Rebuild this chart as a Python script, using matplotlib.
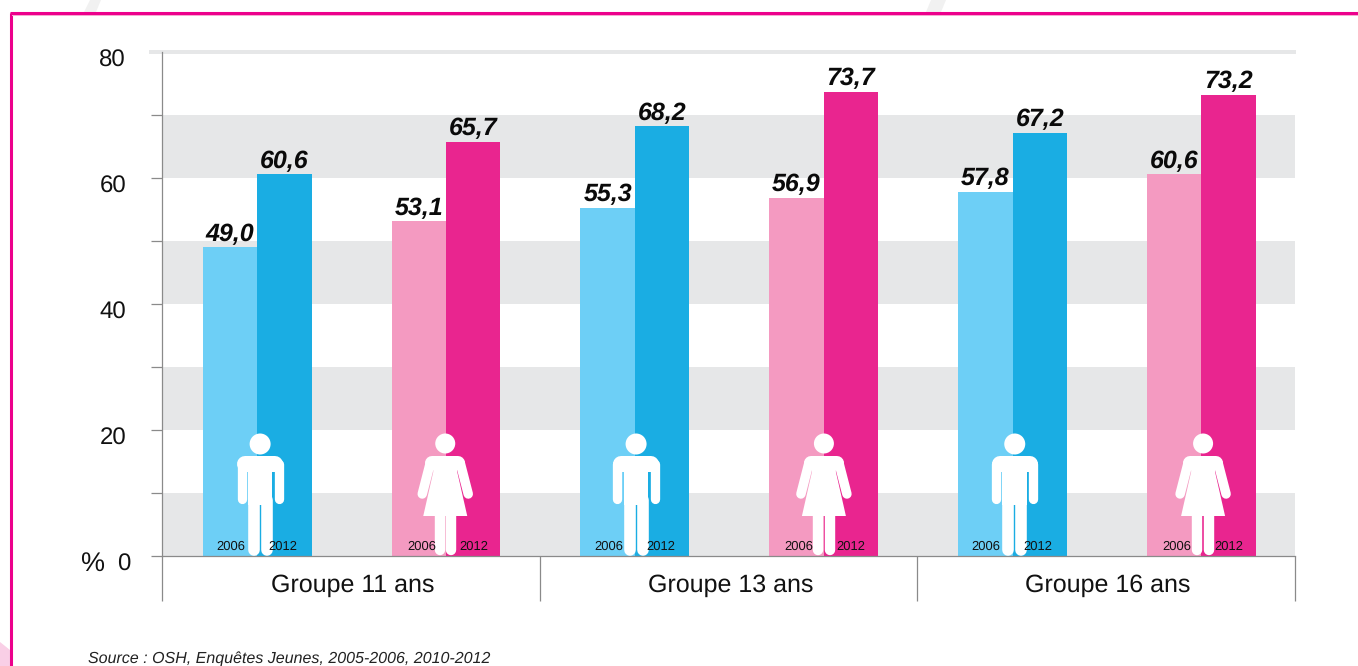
import matplotlib
matplotlib.use("Agg")
import matplotlib.pyplot as plt
from matplotlib.patches import Polygon, Circle, Rectangle
from matplotlib.transforms import ScaledTranslation

plt.rcParams['font.family'] = ['Liberation Sans', 'DejaVu Sans']
plt.rcParams['text.hinting'] = 'no_hinting'
plt.rcParams['text.hinting_factor'] = 1

groups = ["Groupe 11 ans", "Groupe 13 ans", "Groupe 16 ans"]
genders = ["m", "f", "m", "f", "m", "f"]
values_2006 = [49.0, 53.1, 55.3, 56.9, 57.8, 60.6]
values_2012 = [60.6, 65.7, 68.2, 73.7, 67.2, 73.2]
years = ["2006", "2012"]
source = "Source : OSH, Enquêtes Jeunes, 2005-2006, 2010-2012"

W, H = 1358, 666
LIGHT = {"m": "#6dcff6", "f": "#f49ac1"}
DARK = {"m": "#1aade3", "f": "#e9258f"}
BAND = "#e6e7e8"
AXC = "#8a8a8a"
FRAME = "#ec008c"
PX = 0.72

fig = plt.figure(figsize=(W / 100, H / 100), dpi=100, facecolor="white")

# overlay in pixel coordinates, for frame and backdrop
bg = fig.add_axes([0, 0, 1, 1], zorder=0)
bg.set_xlim(0, W); bg.set_ylim(H, 0); bg.axis("off")
bg.add_patch(Polygon([(90, 0), (101, 0), (96, 12), (84, 12)], fc="#f1f1f1", ec="none"))
bg.add_patch(Polygon([(931, 0), (946, 0), (941, 12), (926, 12)], fc="#f1f1f1", ec="none"))
bg.add_patch(Polygon([(0, 642), (10, 650), (10, 666), (0, 666)], fc="#f9cfe6", ec="none"))
bg.plot([11, 11], [H, 13], color=FRAME, lw=2.2, solid_capstyle="butt")
bg.plot([10, W], [13, 13], color=FRAME, lw=2.2, solid_capstyle="butt")
bg.plot([12, W], [14.8, 14.8], color="#f7a8d0", lw=0.7)
bg.add_patch(Rectangle((149, 50), 1147, 4, fc=BAND, ec="none"))

ax = fig.add_axes([162 / W, 1 - 556 / H, (1295 - 162) / W, (556 - 52) / H], zorder=1)
ax.patch.set_alpha(0)
ax.set_xlim(-0.5, 5.5)
ax.set_ylim(0, 80)

for lo in (0, 20, 40, 60):
    ax.axhspan(lo, lo + 10, color=BAND, lw=0, zorder=0)

bw = 0.288
shift = 0.004
for i, g in enumerate(genders):
    ax.bar(i + shift, values_2006[i], width=-bw, align="edge", color=LIGHT[g], lw=0, zorder=2)
    ax.bar(i + shift, values_2012[i], width=bw, align="edge", color=DARK[g], lw=0, zorder=2)
    for xc, v in ((i + shift - bw / 2, values_2006[i]), (i + shift + bw / 2, values_2012[i])):
        ax.annotate(f"{v:.1f}".replace(".", ","), (xc, v), xytext=(0, 1.0), textcoords="offset points",
                    ha="center", va="bottom", fontsize=18, fontweight="bold", fontstyle="italic",
                    color="#0a0a0a", zorder=6)

for s in ax.spines.values():
    s.set_visible(False)
for side in ("bottom", "left"):
    ax.spines[side].set_visible(True)
    ax.spines[side].set_color(AXC)
    ax.spines[side].set_linewidth(0.9)
    ax.spines[side].set_zorder(7)

ax.set_yticks(range(0, 81, 20), [str(v) for v in range(0, 81, 20)])
ax.set_yticks(range(10, 80, 20), minor=True)
ax.tick_params(axis="y", which="both", length=11 * PX, width=0.9, color=AXC)
ax.tick_params(axis="y", which="major", labelsize=17.3, pad=18, labelcolor="#111111")
for t, lab in zip(ax.get_yticks(), ax.get_yticklabels()):
    dx = 4 if t == 0 else 0
    lab.set_transform(lab.get_transform() + ScaledTranslation(dx / 100, -6.5 / 100, fig.dpi_scale_trans))
ax.yaxis.get_major_ticks()[-1].tick1line.set_visible(False)

ax.set_xticks([-0.5, 1.5, 3.5, 5.5], [""] * 4)
ax.set_xticks([0.5, 2.5, 4.5], groups, minor=True)
ax.tick_params(axis="x", which="major", length=45 * PX, width=0.9, color=AXC, pad=0)
ax.tick_params(axis="x", which="minor", length=0, pad=13, labelsize=18, labelcolor="#111111")
for lab in ax.get_xticklabels(minor=True):
    lab.set_transform(lab.get_transform() + ScaledTranslation(2 / 100, 0, fig.dpi_scale_trans))

fig.text(92 / W, 1 - 564 / H, "%", fontsize=19.5, color="#111111", ha="center", va="center")
fig.text(88 / W, 1 - 659 / H, source, fontsize=11.45, fontstyle="italic", color="#222222", ha="left", va="center")

# pictograms on top of the bars
top = fig.add_axes([0, 0, 1, 1], zorder=2)
top.set_xlim(0, W); top.set_ylim(H, 0); top.axis("off")
top.patch.set_alpha(0)


def rod(xs, ys, w):
    top.plot(xs, ys, color="white", lw=w * PX, solid_capstyle="round", zorder=3)


def man(c):
    top.add_patch(Circle((c, 444), 10.5, fc="white", ec="none", zorder=3))
    rod([c - 15, c + 15], [464, 464], 16)
    rod([c - 18.6, c - 18.6], [464, 499.3], 9.3)
    rod([c + 18.6, c + 18.6], [464, 499.3], 9.3)
    top.add_patch(Rectangle((c - 12.3, 460), 24.6, 45, fc="white", ec="none", zorder=3))
    rod([c - 6.5, c - 6.5], [500, 549.5], 11.6)
    rod([c + 6.5, c + 6.5], [500, 549.5], 11.6)


def woman(c):
    top.add_patch(Circle((c, 443.5), 10, fc="white", ec="none", zorder=3))
    rod([c - 13, c + 13], [463, 463], 14)
    top.add_patch(Polygon([(c - 12, 460), (c + 12, 460), (c + 12, 472), (c + 22, 516),
                           (c - 22, 516), (c - 12, 472)], fc="white", ec="none", zorder=3))
    rod([c - 15, c - 23], [463, 494], 9.5)
    rod([c + 15, c + 23], [463, 494], 9.5)
    rod([c - 5.6, c - 5.6], [510, 550], 10.4)
    rod([c + 5.6, c + 5.6], [510, 550], 10.4)


icon_offsets = [3.7, 0, 2, 1, 3, 2.5]
for i, g in enumerate(genders):
    c = ax.transData.transform((i, 0))[0] + icon_offsets[i]
    (man if g == "m" else woman)(c)
    off = (-0.135, 0.14) if g == "m" else (-0.125, 0.15)
    for d, y in zip(off, years):
        px = ax.transData.transform((i + d, 0))[0]
        top.text(px, 547, y, ha="center", va="center", fontsize=9.7, color="#111111", zorder=5)

fig.savefig("out.png", dpi=100, facecolor="white")
